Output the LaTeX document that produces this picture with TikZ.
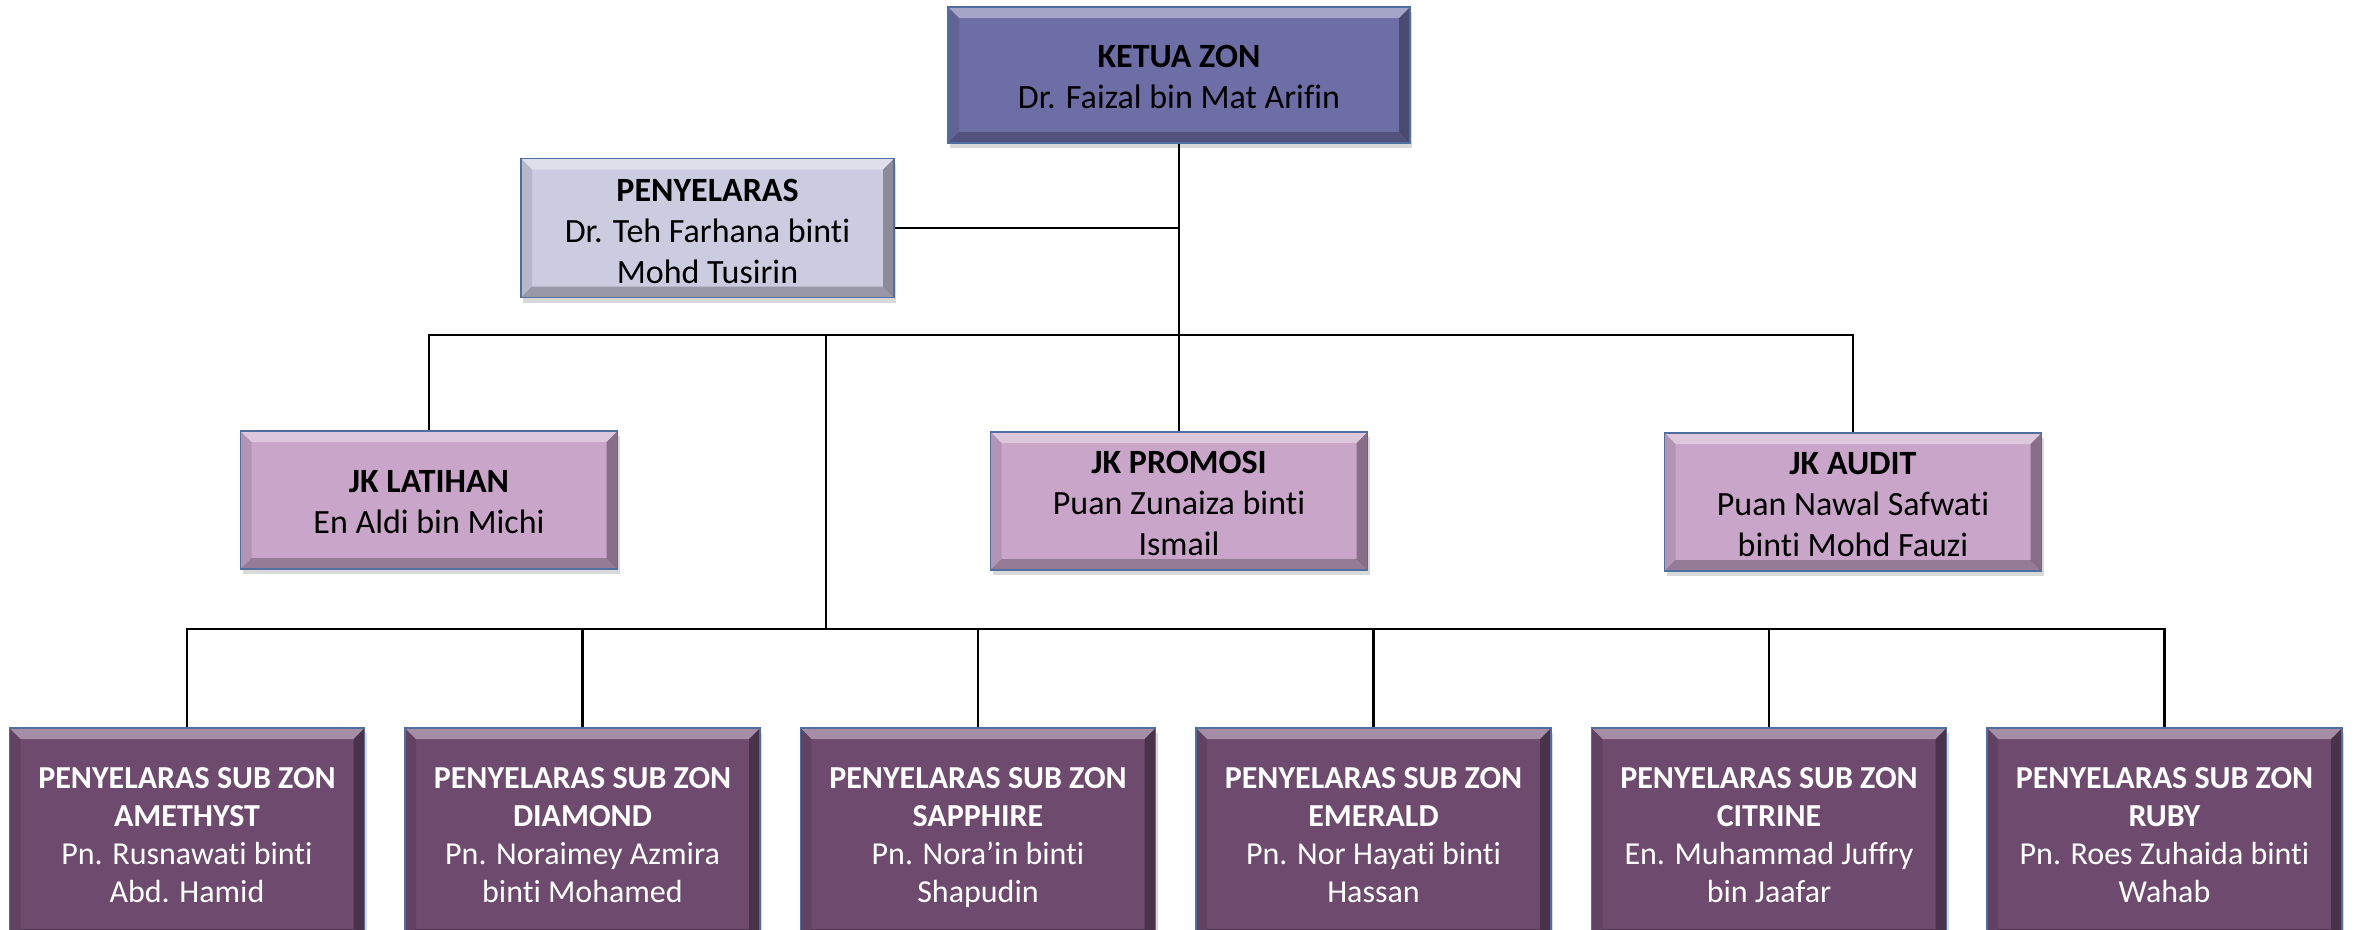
\documentclass[tikz,border=0pt]{standalone}
\usepackage{fontspec}
\setmainfont{Carlito}[Ligatures=NoCommon]
\usetikzlibrary{positioning}
\usetikzlibrary{shadows}

\definecolor{ketuafill}{RGB}{110,110,166}
\definecolor{penyfill}{RGB}{204,204,225}
\definecolor{jkfill}{RGB}{201,165,201}
\definecolor{subfill}{RGB}{110,74,110}
\definecolor{edgeblue}{RGB}{79,111,160}

\tikzset{
  bevel/.style={path picture={
    \path (path picture bounding box.north west) coordinate (bnw)
          (path picture bounding box.north east) coordinate (bne)
          (path picture bounding box.south east) coordinate (bse)
          (path picture bounding box.south west) coordinate (bsw);
    \fill[white,opacity=.38] (bnw) -- (bne) -- ([shift={(-11pt,-11pt)}]bne) -- ([shift={(11pt,-11pt)}]bnw) -- cycle;
    \fill[black,opacity=.32] (bne) -- (bse) -- ([shift={(-11pt,11pt)}]bse) -- ([shift={(-11pt,-11pt)}]bne) -- cycle;
    \fill[black,opacity=.25] (bse) -- (bsw) -- ([shift={(11pt,11pt)}]bsw) -- ([shift={(-11pt,11pt)}]bse) -- cycle;
    \fill[black,opacity=.10] (bsw) -- (bnw) -- ([shift={(11pt,-11pt)}]bnw) -- ([shift={(11pt,11pt)}]bsw) -- cycle;
  }},
  boxnode/.style={rectangle, draw=edgeblue, line width=1.5pt, bevel, align=center, inner sep=0pt, text depth=0pt,
    drop shadow={shadow xshift=2pt, shadow yshift=-5pt, opacity=.3}},
}

\begin{document}
\begin{tikzpicture}[x=1pt, y=-1pt,
        headnode/.style={boxnode, text height=66pt, fill=ketuafill, minimum width=462pt, minimum height=136pt, font=\fontsize{34}{41}\selectfont},
        coordnode/.style={boxnode, text height=110pt, fill=penyfill, minimum width=373pt, minimum height=139pt, font=\fontsize{34}{41}\selectfont},
        jknode/.style={boxnode, text height=108pt, fill=jkfill, minimum width=377pt, minimum height=138pt, font=\fontsize{34}{41}\selectfont},
        subnode/.style={boxnode, text height=137pt, fill=subfill, text=white, minimum width=355pt, minimum height=212pt, font=\fontsize{32}{38}\selectfont},
        link/.style={line width=2.5pt, black},
        ]
        \useasboundingbox (0,0) rectangle (2357,929);
        \clip (0,0) rectangle (2357,929);

        %Nodes
        \node[headnode]  (ketua)      at (1179,75)    {\textbf{KETUA ZON}\\Dr. Faizal bin Mat Arifin};
        \node[coordnode] (penyelaras) at (707.5,228) {\textbf{PENYELARAS}\\Dr. Teh Farhana binti\\Mohd Tusirin};
        \node[jknode, text height=66pt] (latihan) at (429,500) {\textbf{JK LATIHAN}\\En Aldi bin Michi};
        \node[jknode]    (promosi)    at (1179,501)   {\textbf{JK PROMOSI}\\Puan Zunaiza binti\\Ismail};
        \node[jknode]    (audit)      at (1853,502)   {\textbf{JK AUDIT}\\Puan Nawal Safwati\\binti Mohd Fauzi};

        \node[subnode]   (amethyst)   at (187,834)          {\textbf{PENYELARAS SUB ZON}\\\textbf{AMETHYST}\\Pn. Rusnawati binti\\Abd. Hamid};
        \node[subnode]   (diamond)    [right=39pt of amethyst] {\textbf{PENYELARAS SUB ZON}\\\textbf{DIAMOND}\\Pn. Noraimey Azmira\\binti Mohamed};
        \node[subnode]   (sapphire)   [right=39pt of diamond]  {\textbf{PENYELARAS SUB ZON}\\\textbf{SAPPHIRE}\\Pn. Nora’in binti\\Shapudin};
        \node[subnode]   (emerald)    [right=39pt of sapphire] {\textbf{PENYELARAS SUB ZON}\\\textbf{EMERALD}\\Pn. Nor Hayati binti\\Hassan};
        \node[subnode]   (citrine)    [right=39pt of emerald]  {\textbf{PENYELARAS SUB ZON}\\\textbf{CITRINE}\\En. Muhammad Juffry\\bin Jaafar};
        \node[subnode]   (ruby)       [right=39pt of citrine]  {\textbf{PENYELARAS SUB ZON}\\\textbf{RUBY}\\Pn. Roes Zuhaida binti\\Wahab};

        \coordinate (jkbar)  at (0,335);
        \coordinate (subbar) at (0,629);
        \coordinate (drop)   at (826,335);

        %Lines
        \draw[link] (ketua.south) -- (promosi.north);
        \draw[link] (penyelaras.east) -- (penyelaras.east -| ketua.south);
        \draw[link] (latihan.north) -- (latihan.north |- jkbar) -| (audit.north);
        \draw[link] (drop) -- (drop |- subbar);
        \draw[link] (amethyst.north) -- (amethyst.north |- subbar) -| (ruby.north);
        \foreach \n in {diamond, sapphire, emerald, citrine}
            \draw[link] (\n.north) -- (\n.north |- subbar);
    \end{tikzpicture}
\end{document}
